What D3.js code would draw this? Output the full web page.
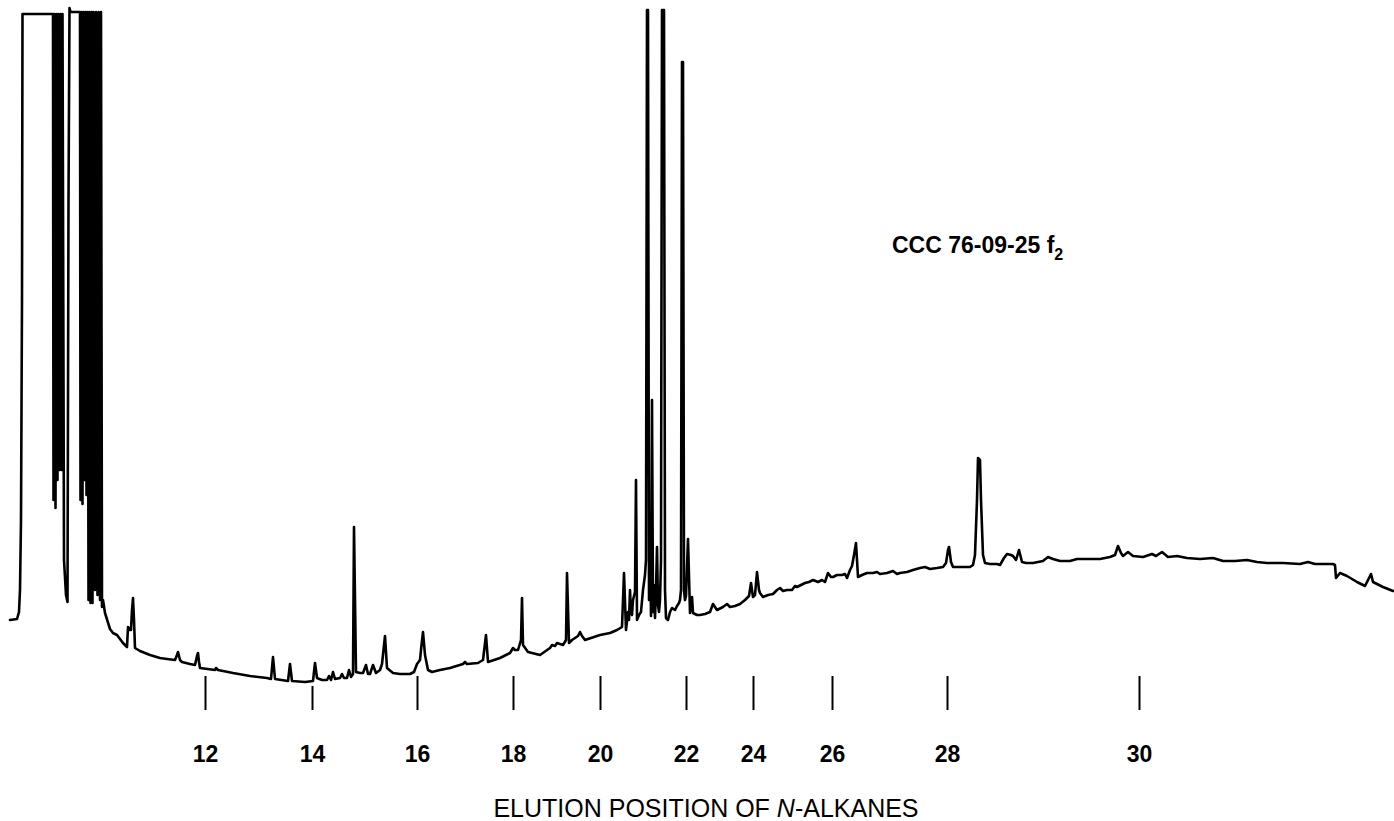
<!DOCTYPE html>
<html>
<head>
<meta charset="utf-8">
<script src="https://cdn.jsdelivr.net/npm/d3@7"></script>
<style>
  html, body { margin: 0; padding: 0; background: #fff; }
  svg { display: block; font-family: "Liberation Sans", Arial, Helvetica, sans-serif; }
</style>
</head>
<body>
<svg id="chart" width="1394" height="821"></svg>
<script>
// Retention time (arbitrary time units) and detector response (arbitrary units)
const traceTime = [
  10,17,19,20,21,22,22.5,53,53.5,54.5,55.5,56.5,57.5,58.5,59.5,60.5,61.5,62.5,64,66,67.5,68.5,69.5,70.5,
  80,80.5,81.5,82.5,83.5,84.5,85.5,86.5,87.5,88.5,89.5,90.5,91.5,92.5,93.5,95,96,97.5,98.5,100,101,102,103,
  105,110,113,117,123,127,128,130,131,132,133,134,135,140,150,160,167,175,177,178,180,182,190,195,197,198,199,
  200,215,216,218,233,250,267,271,273,275,288,290,292,305,313,315,317,322,327,329,331,333,335,340,342,344,347,
  349,351,353,354,356,360,363,366,368,370,373,376,380,382,385,387,393,400,410,414,417,420,421,423,425,426,428,
  432,440,450,463,465,467,478,483,486,488,500,510,513,515,518,521,522,523,528,540,550,552,555,557,563,566,567,
  569,572,578,580,582,585,600,610,617,622,624,626,628,629,630,631,632,633,635,636,637,639,641,643,645,646,647,
  648,649,650,651,652,653,654,655,656,657,658,659,660,661,662,664,665,666,668,670,672,675,677,679,680,681,682,
  683,684,685,686,688,690,692,693,697,700,705,710,713,717,723,727,730,735,740,745,749,751,753,755,757,759,760,
  763,768,773,777,780,783,787,792,795,797,801,805,809,813,818,822,825,828,831,833,837,842,845,847,850,852,854,
  856,858,862,867,873,877,880,887,893,897,900,907,913,920,925,930,937,943,946,948,949,951,953,960,970,973,975,
  977,978,980,981,983,985,990,997,1000,1004,1007,1011,1013,1016,1019,1022,1026,1033,1043,1048,1053,1060,1070,
  1077,1090,1100,1110,1115,1118,1121,1123,1128,1133,1143,1152,1156,1162,1168,1177,1187,1200,1213,1223,1235,
  1247,1257,1267,1283,1300,1308,1315,1333,1335,1336,1340,1347,1357,1365,1368,1371,1373,1383,1393
];
const traceResponse = [
  80,81,88,110,180,400,686,686,200,686,192,686,220,686,230,686,230,686,140,105,98,500,692,688,
  688,200,688,196,688,220,688,205,688,100,688,97,688,97,688,110,688,105,688,100,688,93,100,
  87,71,67,65,57,53,73,70,70,90,102,80,52,49,45,42,41,40,45,48,40,38,36,35,44,47,38,
  32,30,32,30,27,24,22,21,43,21,19,36,19,18,19,37,22,20,20,24,20,28,21,22,26,22,22,
  30,23,26,173,28,27,27,35,26,26,35,27,30,36,64,32,27,26,26,28,36,40,50,68,45,40,30,
  28,30,32,36,38,36,37,40,65,38,42,47,52,50,50,60,102,55,48,45,52,55,54,57,55,60,127,
  57,60,64,68,64,60,65,67,70,73,127,70,88,80,110,88,85,100,108,220,80,85,88,110,125,140,690,
  690,100,160,84,300,88,115,82,110,153,95,88,100,140,690,690,110,82,80,88,92,90,94,97,100,110,638,
  638,110,100,104,161,87,103,87,85,85,86,88,96,90,93,96,93,94,96,100,104,117,103,105,128,110,107,
  103,105,106,110,112,109,110,110,114,113,115,117,118,120,118,120,118,127,123,123,125,125,126,122,130,134,145,
  157,123,125,127,127,128,126,127,129,126,127,128,130,132,133,131,132,133,137,150,153,138,133,133,133,135,145,
  200,242,240,200,145,137,136,136,135,142,146,145,144,140,150,138,137,137,139,143,141,139,139,
  141,141,141,143,145,154,147,144,148,144,143,146,144,148,143,144,142,141,142,139,139,
  140,138,137,137,136,138,136,136,135,122,127,124,118,114,120,126,118,113,109
];

// Elution positions of the n-alkane reference markers
const alkaneCarbons = [12, 14, 16, 18, 20, 22, 24, 26, 28, 30];
const alkaneTimes   = [205, 312, 417, 513, 600, 686, 753, 832, 947, 1139];

const sampleName = "CCC 76-09-25 f";
const sampleSub = "2";
const axisTitleA = "ELUTION POSITION OF ";
const axisTitleN = "N";
const axisTitleB = "-ALKANES";

const svg = d3.select("#chart");
const x = d3.scaleLinear().domain([0, 1394]).range([0, 1394]);
const y = d3.scaleLinear().domain([0, 700]).range([700, 0]);

const pts = traceTime.map((t, i) => [t, traceResponse[i]]);
const line = d3.line().x(d => x(d[0])).y(d => y(d[1]));

svg.append("path")
  .datum(pts)
  .attr("d", line)
  .attr("fill", "none")
  .attr("stroke", "#000")
  .attr("stroke-width", 2.6)
  .attr("stroke-linejoin", "round")
  .attr("stroke-linecap", "round");

// Alkane marker axis
const axis = d3.axisBottom(x)
  .tickValues(alkaneTimes)
  .tickFormat((d, i) => alkaneCarbons[i])
  .tickSize(34)
  .tickPadding(36);

const gAxis = svg.append("g")
  .attr("transform", "translate(0,676)")
  .call(axis);
gAxis.select(".domain").remove();
gAxis.selectAll(".tick line")
  .attr("stroke", "#000")
  .attr("stroke-width", 2)
  .filter((d, i) => alkaneCarbons[i] === 14)
  .attr("y1", 10);
gAxis.selectAll(".tick text")
  .attr("fill", "#000")
  .style("font-family", '"Liberation Sans", Arial, Helvetica, sans-serif')
  .style("font-size", "23px")
  .style("font-weight", "bold");

// Axis title
const title = svg.append("text")
  .attr("x", 706)
  .attr("y", 817)
  .attr("text-anchor", "middle")
  .style("font-size", "25px")
  .attr("fill", "#000");
title.append("tspan").text(axisTitleA);
title.append("tspan").style("font-style", "italic").text(axisTitleN);
title.append("tspan").text(axisTitleB);

// Sample label
const lab = svg.append("text")
  .attr("x", 892)
  .attr("y", 253)
  .style("font-size", "23px")
  .style("font-weight", "bold")
  .attr("fill", "#000");
lab.append("tspan").text(sampleName);
lab.append("tspan").attr("dy", 7).style("font-size", "16px").text(sampleSub);
</script>
</body>
</html>
